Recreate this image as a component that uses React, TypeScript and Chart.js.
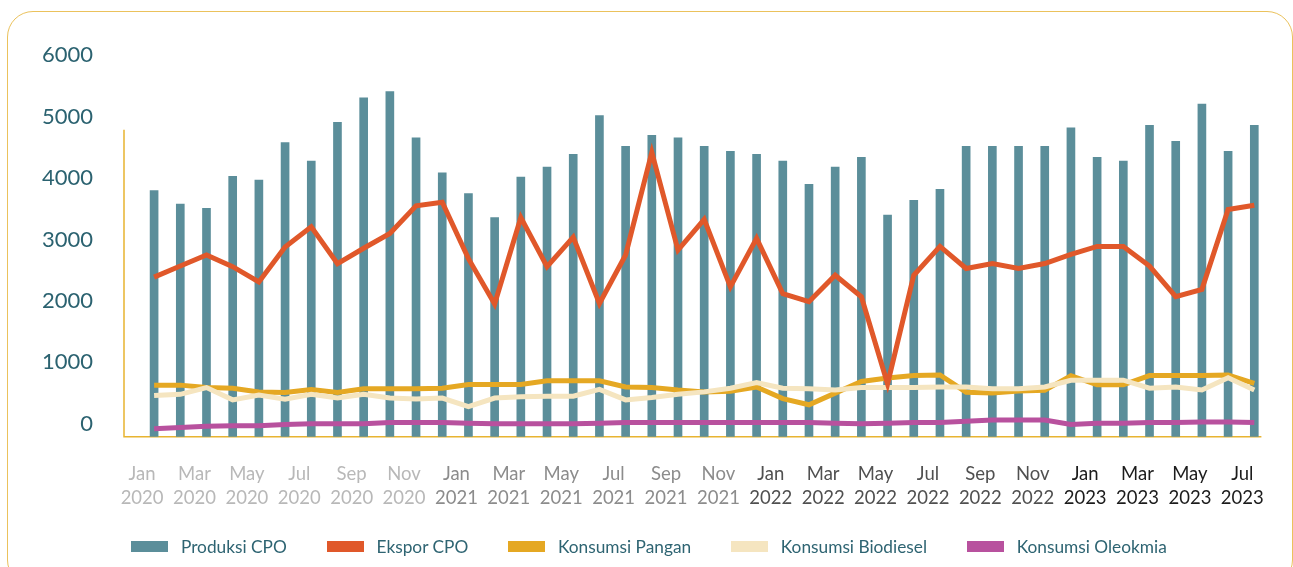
import { useEffect, useRef } from 'react';
import { Chart, registerables } from 'chart.js';

Chart.register(...registerables);

const months = [
  'Jan 2020', 'Feb 2020', 'Mar 2020', 'Apr 2020', 'May 2020', 'Jun 2020', 'Jul 2020', 'Aug 2020', 'Sep 2020', 'Oct 2020', 'Nov 2020', 'Dec 2020',
  'Jan 2021', 'Feb 2021', 'Mar 2021', 'Apr 2021', 'May 2021', 'Jun 2021', 'Jul 2021', 'Aug 2021', 'Sep 2021', 'Oct 2021', 'Nov 2021', 'Dec 2021',
  'Jan 2022', 'Feb 2022', 'Mar 2022', 'Apr 2022', 'May 2022', 'Jun 2022', 'Jul 2022', 'Aug 2022', 'Sep 2022', 'Oct 2022', 'Nov 2022', 'Dec 2022',
  'Jan 2023', 'Feb 2023', 'Mar 2023', 'Apr 2023', 'May 2023', 'Jun 2023', 'Jul 2023',
];

const produksiCPO = [
  4010, 3790, 3720, 4240, 4180, 4790, 4490, 5120, 5520, 5620, 4870, 4300,
  3960, 3570, 4230, 4390, 4600, 5230, 4730, 4910, 4870, 4730, 4650, 4600,
  4490, 4110, 4390, 4550, 3610, 3850, 4030, 4730, 4730, 4730, 4730, 5030,
  4550, 4490, 5070, 4810, 5420, 4650, 5070,
];

const eksporCPO = [
  2600, 2780, 2960, 2770, 2520, 3090, 3420, 2820, 3070, 3310, 3760, 3820,
  2900, 2160, 3570, 2770, 3250, 2170, 2960, 4630, 3040, 3540, 2440, 3230,
  2330, 2200, 2630, 2280, 860, 2630, 3100, 2740, 2820, 2740, 2820, 2970,
  3100, 3100, 2780, 2280, 2400, 3700, 3770,
];

const konsumsiPangan = [
  840, 840, 800, 790, 730, 720, 770, 720, 780, 780, 780, 790,
  850, 850, 850, 910, 910, 910, 810, 800, 760, 730, 740, 810,
  620, 520, 710, 900, 955, 995, 1005, 725, 710, 745, 755, 995,
  845, 845, 995, 995, 995, 1005, 870,
];

const konsumsiBiodiesel = [
  670, 690, 800, 600, 680, 610, 690, 630, 690, 630, 615, 630,
  490, 630, 650, 660, 660, 770, 600, 640, 690, 730, 790, 880,
  790, 780, 760, 800, 800, 800, 810, 810, 780, 780, 810, 920,
  920, 920, 790, 810, 760, 960, 760,
];

const konsumsiOleokimia = [
  130, 150, 170, 180, 180, 200, 210, 210, 210, 230, 230, 230,
  220, 210, 210, 210, 210, 220, 230, 230, 230, 230, 230, 230,
  230, 230, 220, 210, 220, 230, 230, 250, 270, 270, 270, 200,
  220, 220, 230, 230, 240, 240, 230,
];

const yTicks = [0, 1000, 2000, 3000, 4000, 5000, 6000];

const seriesLabels = ['Produksi CPO', 'Ekspor CPO', 'Konsumsi Pangan', 'Konsumsi Biodiesel', 'Konsumsi Oleokmia'];
const seriesColors = ['#5b8e9a', '#e0582a', '#e5a823', '#f5e5c0', '#b8519e'];
const yearColors: Record<string, string> = {
  '2020': '#b8b8b8',
  '2021': '#8c8c8c',
  '2022': '#505050',
  '2023': '#1c1c1c',
};

const axisLinesPlugin = {
  id: 'axisLines',
  beforeDatasetsDraw(chart: any) {
    const { ctx, chartArea, scales } = chart;
    const left = chartArea.left - 17;
    const bottom = chartArea.bottom;
    ctx.save();
    ctx.strokeStyle = '#e8b431';
    ctx.lineWidth = 1.5;
    ctx.beginPath();
    ctx.moveTo(left, scales.y.getPixelForValue(5000));
    ctx.lineTo(left, bottom);
    ctx.lineTo(chartArea.right - 6, bottom);
    ctx.stroke();
    ctx.restore();
  },
};

export default function App() {
  const ref = useRef<HTMLCanvasElement>(null);

  useEffect(() => {
    Chart.defaults.font.family = 'Lato';
    const lineDs = (i: number, data: number[], order: number) => ({
      type: 'line' as const,
      label: seriesLabels[i],
      data,
      borderColor: seriesColors[i],
      backgroundColor: seriesColors[i],
      borderWidth: 5,
      pointRadius: 0,
      tension: 0,
      fill: false,
      borderJoinStyle: 'miter' as const,
      order,
    });
    const chart = new Chart(ref.current!, {
      type: 'bar',
      data: {
        labels: months,
        datasets: [
          {
            type: 'bar',
            label: seriesLabels[0],
            data: produksiCPO,
            backgroundColor: seriesColors[0],
            barThickness: 8,
            order: 10,
          } as any,
          lineDs(1, eksporCPO, 1),
          lineDs(2, konsumsiPangan, 3),
          lineDs(3, konsumsiBiodiesel, 2),
          lineDs(4, konsumsiOleokimia, 4),
        ],
      },
      options: {
        responsive: false,
        animation: false,
        layout: { padding: { left: 0, right: 25.6, top: 53, bottom: 50.3 } },
        plugins: {
          tooltip: { enabled: false },
          legend: { display: false },
        },
        scales: {
          x: {
            grid: { display: false, drawTicks: false },
            border: { display: false },
            afterFit: (s: any) => {
              s.height = 80;
              s.paddingLeft = 0;
              s.paddingRight = 0;
            },
            ticks: {
              autoSkip: false,
              maxRotation: 0,
              minRotation: 0,
              padding: 25.5,
              labelOffset: -12,
              font: { size: 18.5, family: 'Lato', lineHeight: 24 / 18.5 },
              color: (ctx: any) => yearColors[months[ctx.index].split(' ')[1]],
              callback: (_v: any, i: number) => (i % 2 === 0 ? months[i].split(' ') : ''),
            },
          },
          y: {
            min: 0,
            max: 6250,
            grid: { display: false, drawTicks: false },
            border: { display: false },
            afterFit: (s: any) => {
              s.width = 141;
              s.paddingTop = 0;
              s.paddingBottom = 0;
            },
            afterBuildTicks: (s: any) => { s.ticks = yTicks.map((v) => ({ value: v })); },
            ticks: {
              padding: 48,
              labelOffset: -13,
              color: '#2b6270',
              font: { size: 22, family: 'Lato' },
              callback: (v: any) => String(v),
            },
          },
        },
      },
      plugins: [axisLinesPlugin],
    });
    return () => chart.destroy();
  }, []);

  return (
    <div style={{ position: 'fixed', left: 0, top: 0, width: 1293, height: 567, overflow: 'hidden', background: '#ffffff' }}>
      <div
        style={{
          position: 'absolute',
          left: 7,
          top: 11,
          width: 1286,
          height: 575,
          border: '1.5px solid #ebc25c',
          borderRadius: 26,
          boxSizing: 'border-box',
        }}
      />
      <canvas ref={ref} width={1293} height={567} style={{ position: 'absolute', left: 0, top: 0 }} />
      <div
        style={{
          position: 'absolute',
          left: 0,
          width: 1298,
          top: 534.5,
          height: 24,
          display: 'flex',
          justifyContent: 'center',
          alignItems: 'center',
          gap: 40,
          fontFamily: 'Lato',
          fontSize: 17.3,
          color: '#2e6472',
        }}
      >
        {seriesLabels.map((label, i) => (
          <div key={label} style={{ display: 'flex', alignItems: 'center', gap: 12.7 }}>
            <span style={{ display: 'inline-block', width: 37, height: 11, background: seriesColors[i] }} />
            <span style={{ lineHeight: '24px' }}>{label}</span>
          </div>
        ))}
      </div>
    </div>
  );
}
